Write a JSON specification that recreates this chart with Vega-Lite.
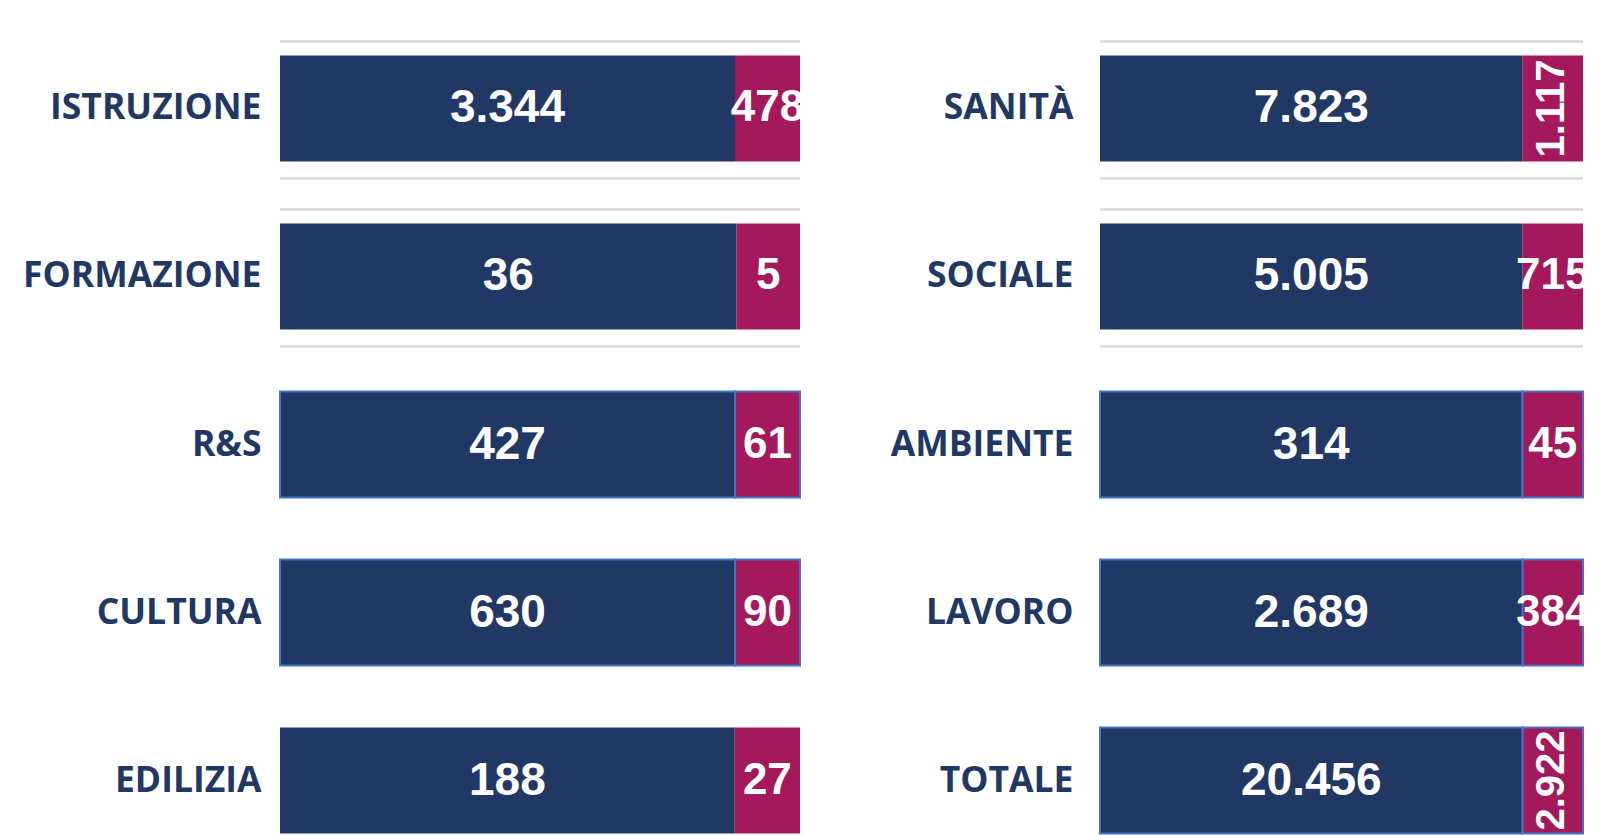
{
  "$schema": "https://vega.github.io/schema/vega-lite/v6.json",
  "padding": {"left": 0, "top": 27, "right": 0, "bottom": 0},
  "background": "white",
  "spacing": 45,
  "config": {
    "view": {"stroke": null},
    "locale": {"number": {"decimal": ",", "thousands": ".", "grouping": [3], "currency": ["€", ""]}},
    "axisY": {"domain": false, "ticks": false, "grid": false, "title": null, "labelFont": "Open Sans", "labelFontWeight": "bold", "labelFontSize": 35.5, "labelColor": "#213864", "labelLimit": 400}
  },
  "datasets": {
    "sinistra": [
      {"settore": "ISTRUZIONE", "parte": "A", "valore": 3344},
      {"settore": "ISTRUZIONE", "parte": "B", "valore": 478},
      {"settore": "FORMAZIONE", "parte": "A", "valore": 36},
      {"settore": "FORMAZIONE", "parte": "B", "valore": 5},
      {"settore": "R&S", "parte": "A", "valore": 427},
      {"settore": "R&S", "parte": "B", "valore": 61},
      {"settore": "CULTURA", "parte": "A", "valore": 630},
      {"settore": "CULTURA", "parte": "B", "valore": 90},
      {"settore": "EDILIZIA", "parte": "A", "valore": 188},
      {"settore": "EDILIZIA", "parte": "B", "valore": 27}
    ],
    "destra": [
      {"settore": "SANITÀ", "parte": "A", "valore": 7823},
      {"settore": "SANITÀ", "parte": "B", "valore": 1117},
      {"settore": "SOCIALE", "parte": "A", "valore": 5005},
      {"settore": "SOCIALE", "parte": "B", "valore": 715},
      {"settore": "AMBIENTE", "parte": "A", "valore": 314},
      {"settore": "AMBIENTE", "parte": "B", "valore": 45},
      {"settore": "LAVORO", "parte": "A", "valore": 2689},
      {"settore": "LAVORO", "parte": "B", "valore": 384},
      {"settore": "TOTALE", "parte": "A", "valore": 20456},
      {"settore": "TOTALE", "parte": "B", "valore": 2922}
    ]
  },
  "hconcat": [
    {
      "data": {"name": "sinistra"},
      "width": 520,
      "height": 835,
      "encoding": {
        "y": {"field": "settore", "type": "nominal", "sort": ["ISTRUZIONE", "FORMAZIONE", "R&S", "CULTURA", "EDILIZIA"], "scale": {"paddingInner": 0.37, "paddingOuter": 0.17}, "axis": {"labelPadding": 19, "minExtent": 280, "maxExtent": 280}}
      },
      "layer": [
        {
          "transform": [{"filter": "datum.parte == 'A' && (datum.settore == 'ISTRUZIONE' || datum.settore == 'FORMAZIONE')"}],
          "mark": {"type": "rule", "color": "#D9D9D9", "strokeWidth": 2.5, "yOffset": -14},
          "encoding": {"y": {"field": "settore", "type": "nominal", "sort": ["ISTRUZIONE", "FORMAZIONE", "R&S", "CULTURA", "EDILIZIA"], "bandPosition": 0}}
        },
        {
          "transform": [{"filter": "datum.parte == 'A' && (datum.settore == 'ISTRUZIONE' || datum.settore == 'FORMAZIONE')"}],
          "mark": {"type": "rule", "color": "#D9D9D9", "strokeWidth": 2.5, "yOffset": 17},
          "encoding": {"y": {"field": "settore", "type": "nominal", "sort": ["ISTRUZIONE", "FORMAZIONE", "R&S", "CULTURA", "EDILIZIA"], "bandPosition": 1}}
        },
        {
          "mark": {"type": "bar", "stroke": "#4472C4"},
          "encoding": {
            "x": {"field": "valore", "type": "quantitative", "stack": "normalize", "axis": null, "scale": {"nice": false}},
            "color": {"field": "parte", "type": "nominal", "scale": {"domain": ["A", "B"], "range": ["#213864", "#A3195B"]}, "legend": null},
            "order": {"field": "parte", "type": "ordinal", "sort": "ascending"},
            "strokeWidth": {"condition": {"test": "indexof(['R&S','CULTURA','AMBIENTE','LAVORO','TOTALE'], datum.settore) >= 0", "value": 2}, "value": 0}
          }
        },
        {
          "mark": {"type": "text", "font": "Liberation Sans", "fontWeight": "bold", "color": "white", "align": "center", "baseline": "middle"},
          "encoding": {
            "x": {"field": "valore", "type": "quantitative", "stack": "normalize", "bandPosition": 0.5},
            "detail": {"field": "parte"},
            "order": {"field": "parte", "type": "ordinal", "sort": "ascending"},
            "text": {"condition": {"test": "datum.parte == 'B' && datum.valore >= 1000", "value": ""}, "field": "valore", "type": "quantitative", "format": ",d"},
            "size": {"condition": {"test": "datum.parte == 'A'", "value": 46}, "value": 44}
          }
        }
      ]
    },
    {
      "data": {"name": "destra"},
      "width": 483,
      "height": 835,
      "encoding": {
        "y": {"field": "settore", "type": "nominal", "sort": ["SANITÀ", "SOCIALE", "AMBIENTE", "LAVORO", "TOTALE"], "scale": {"paddingInner": 0.37, "paddingOuter": 0.17}, "axis": {"labelPadding": 27, "minExtent": 250, "maxExtent": 250}}
      },
      "layer": [
        {
          "transform": [{"filter": "datum.parte == 'A' && (datum.settore == 'SANITÀ' || datum.settore == 'SOCIALE')"}],
          "mark": {"type": "rule", "color": "#D9D9D9", "strokeWidth": 2.5, "yOffset": -14},
          "encoding": {"y": {"field": "settore", "type": "nominal", "sort": ["SANITÀ", "SOCIALE", "AMBIENTE", "LAVORO", "TOTALE"], "bandPosition": 0}}
        },
        {
          "transform": [{"filter": "datum.parte == 'A' && (datum.settore == 'SANITÀ' || datum.settore == 'SOCIALE')"}],
          "mark": {"type": "rule", "color": "#D9D9D9", "strokeWidth": 2.5, "yOffset": 17},
          "encoding": {"y": {"field": "settore", "type": "nominal", "sort": ["SANITÀ", "SOCIALE", "AMBIENTE", "LAVORO", "TOTALE"], "bandPosition": 1}}
        },
        {
          "mark": {"type": "bar", "stroke": "#4472C4"},
          "encoding": {
            "x": {"field": "valore", "type": "quantitative", "stack": "normalize", "axis": null, "scale": {"nice": false}},
            "color": {"field": "parte", "type": "nominal", "scale": {"domain": ["A", "B"], "range": ["#213864", "#A3195B"]}, "legend": null},
            "order": {"field": "parte", "type": "ordinal", "sort": "ascending"},
            "strokeWidth": {"condition": {"test": "indexof(['R&S','CULTURA','AMBIENTE','LAVORO','TOTALE'], datum.settore) >= 0", "value": 2}, "value": 0}
          }
        },
        {
          "mark": {"type": "text", "font": "Liberation Sans", "fontWeight": "bold", "color": "white", "align": "center", "baseline": "middle"},
          "encoding": {
            "x": {"field": "valore", "type": "quantitative", "stack": "normalize", "bandPosition": 0.5},
            "detail": {"field": "parte"},
            "order": {"field": "parte", "type": "ordinal", "sort": "ascending"},
            "text": {"condition": {"test": "datum.parte == 'B' && datum.valore >= 1000", "value": ""}, "field": "valore", "type": "quantitative", "format": ",d"},
            "size": {"condition": {"test": "datum.parte == 'A'", "value": 46}, "value": 44}
          }
        },
        {
          "mark": {"type": "text", "font": "Liberation Sans", "fontWeight": "bold", "color": "white", "align": "center", "baseline": "middle", "angle": 270, "fontSize": 40, "dy": -1},
          "encoding": {
            "x": {"field": "valore", "type": "quantitative", "stack": "normalize", "bandPosition": 0.5},
            "detail": {"field": "parte"},
            "order": {"field": "parte", "type": "ordinal", "sort": "ascending"},
            "text": {"condition": {"test": "!(datum.parte == 'B' && datum.valore >= 1000)", "value": ""}, "field": "valore", "type": "quantitative", "format": ",d"}
          }
        }
      ]
    }
  ]
}
